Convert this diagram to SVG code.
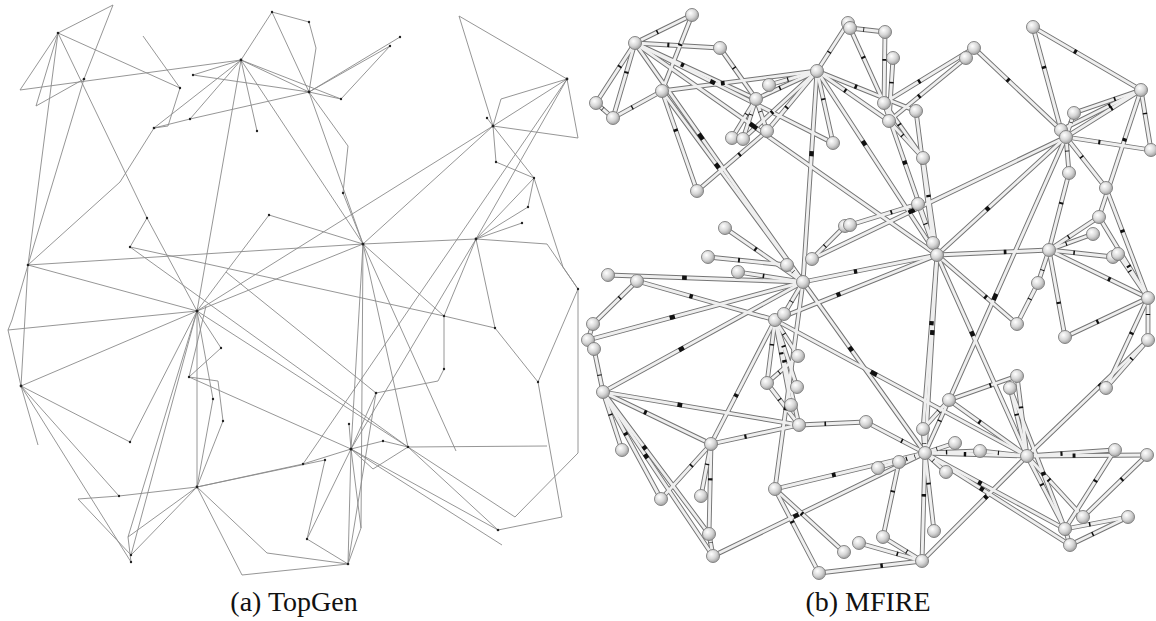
<svg xmlns="http://www.w3.org/2000/svg" xmlns:xlink="http://www.w3.org/1999/xlink" width="1156" height="621" viewBox="0 0 1156 621">
<style>
.tg{fill:none;stroke:#8a8a8a;stroke-width:0.9}
.dot{fill:#222}
.outer{fill:none;stroke:#747474;stroke-width:4.8;stroke-linecap:round}
.inner{fill:none;stroke:#efefef;stroke-width:2.9;stroke-linecap:round}
.marks{fill:none;stroke:#111;stroke-width:4.4;stroke-dasharray:0 38 2.4 100}
.ball{fill:url(#sph);stroke:#7a7a7a;stroke-width:0.9}
.cap{font-family:"Liberation Serif","Times New Roman",serif;font-size:28px;fill:#111;text-anchor:middle}
</style>
<defs>
<radialGradient id="sph" cx="0.38" cy="0.35" r="0.7">
<stop offset="0" stop-color="#ffffff"/>
<stop offset="0.55" stop-color="#d6d6d6"/>
<stop offset="1" stop-color="#9a9a9a"/>
</radialGradient>
<g id="tubes">
<path pathLength="100" d="M635 43L692 15"/>
<path pathLength="100" d="M635 43L720 48"/>
<path pathLength="100" d="M635 43L596 103"/>
<path pathLength="100" d="M635 43L613 118"/>
<path pathLength="100" d="M596 103L613 118"/>
<path pathLength="100" d="M613 118L662 91"/>
<path pathLength="100" d="M692 15L662 91"/>
<path pathLength="100" d="M662 91L817 71"/>
<path pathLength="100" d="M662 91L697 191"/>
<path pathLength="100" d="M662 91L803 282"/>
<path pathLength="100" d="M635 43L803 282"/>
<path pathLength="100" d="M635 43L833 143"/>
<path pathLength="100" d="M635 43L937 255"/>
<path pathLength="100" d="M635 43L756 99"/>
<path pathLength="100" d="M720 48L756 99"/>
<path pathLength="100" d="M756 99L817 71"/>
<path pathLength="100" d="M769 85L817 71"/>
<path pathLength="100" d="M756 99L732 138"/>
<path pathLength="100" d="M756 99L743 139"/>
<path pathLength="100" d="M756 99L767 131"/>
<path pathLength="100" d="M767 131L817 71"/>
<path pathLength="100" d="M767 131L697 191"/>
<path pathLength="100" d="M743 139L817 71"/>
<path pathLength="100" d="M817 71L848 23"/>
<path pathLength="100" d="M850 28L885 32"/>
<path pathLength="100" d="M817 71L833 143"/>
<path pathLength="100" d="M817 71L803 282"/>
<path pathLength="100" d="M817 71L937 255"/>
<path pathLength="100" d="M817 71L889 121"/>
<path pathLength="100" d="M817 71L916 111"/>
<path pathLength="100" d="M850 28L884 103"/>
<path pathLength="100" d="M885 32L884 103"/>
<path pathLength="100" d="M893 58L889 121"/>
<path pathLength="100" d="M884 103L974 48"/>
<path pathLength="100" d="M889 121L966 58"/>
<path pathLength="100" d="M974 48L1061 130"/>
<path pathLength="100" d="M916 111L933 243"/>
<path pathLength="100" d="M889 121L923 158"/>
<path pathLength="100" d="M884 103L923 158"/>
<path pathLength="100" d="M923 158L937 255"/>
<path pathLength="100" d="M884 103L937 255"/>
<path pathLength="100" d="M918 204L850 225"/>
<path pathLength="100" d="M918 204L937 255"/>
<path pathLength="100" d="M937 255L1066 137"/>
<path pathLength="100" d="M812 259L1066 137"/>
<path pathLength="100" d="M1033 27L1141 90"/>
<path pathLength="100" d="M1033 27L1061 130"/>
<path pathLength="100" d="M1141 90L1074 113"/>
<path pathLength="100" d="M1074 113L1066 137"/>
<path pathLength="100" d="M1141 90L1151 150"/>
<path pathLength="100" d="M1066 137L1151 150"/>
<path pathLength="100" d="M1141 90L1066 137"/>
<path pathLength="100" d="M1141 90L1061 130"/>
<path pathLength="100" d="M1141 90L1099 217"/>
<path pathLength="100" d="M1066 137L1069 173"/>
<path pathLength="100" d="M1066 137L1106 188"/>
<path pathLength="100" d="M1069 173L1049 250"/>
<path pathLength="100" d="M1049 250L1099 217"/>
<path pathLength="100" d="M1049 250L1093 234"/>
<path pathLength="100" d="M1049 250L1113 257"/>
<path pathLength="100" d="M1049 250L937 255"/>
<path pathLength="100" d="M1118 254L1148 298"/>
<path pathLength="100" d="M1106 188L1148 298"/>
<path pathLength="100" d="M608 275L803 282"/>
<path pathLength="100" d="M637 281L593 324"/>
<path pathLength="100" d="M637 281L775 320"/>
<path pathLength="100" d="M588 340L803 282"/>
<path pathLength="100" d="M603 392L803 282"/>
<path pathLength="100" d="M603 392L594 349"/>
<path pathLength="100" d="M594 349L588 340"/>
<path pathLength="100" d="M588 340L593 324"/>
<path pathLength="100" d="M603 392L622 450"/>
<path pathLength="100" d="M603 392L711 444"/>
<path pathLength="100" d="M603 392L799 425"/>
<path pathLength="100" d="M603 392L661 499"/>
<path pathLength="100" d="M603 392L709 534"/>
<path pathLength="100" d="M603 392L713 556"/>
<path pathLength="100" d="M711 444L775 320"/>
<path pathLength="100" d="M711 444L799 425"/>
<path pathLength="100" d="M711 444L701 496"/>
<path pathLength="100" d="M711 444L661 499"/>
<path pathLength="100" d="M711 444L709 534"/>
<path pathLength="100" d="M709 534L713 556"/>
<path pathLength="100" d="M713 556L925 453"/>
<path pathLength="100" d="M775 320L798 356"/>
<path pathLength="100" d="M775 320L767 383"/>
<path pathLength="100" d="M775 320L797 387"/>
<path pathLength="100" d="M775 320L791 405"/>
<path pathLength="100" d="M775 320L799 425"/>
<path pathLength="100" d="M767 383L798 356"/>
<path pathLength="100" d="M767 383L799 425"/>
<path pathLength="100" d="M775 489L803 282"/>
<path pathLength="100" d="M775 489L925 453"/>
<path pathLength="100" d="M775 489L844 552"/>
<path pathLength="100" d="M775 489L819 573"/>
<path pathLength="100" d="M803 282L925 453"/>
<path pathLength="100" d="M803 282L937 255"/>
<path pathLength="100" d="M775 320L937 255"/>
<path pathLength="100" d="M775 320L1027 456"/>
<path pathLength="100" d="M738 272L803 282"/>
<path pathLength="100" d="M725 228L803 282"/>
<path pathLength="100" d="M708 257L787 265"/>
<path pathLength="100" d="M787 265L803 282"/>
<path pathLength="100" d="M784 314L803 282"/>
<path pathLength="100" d="M812 259L845 226"/>
<path pathLength="100" d="M1038 283L1017 324"/>
<path pathLength="100" d="M1017 324L937 255"/>
<path pathLength="100" d="M1038 283L1049 250"/>
<path pathLength="100" d="M1065 337L1148 298"/>
<path pathLength="100" d="M1065 337L1049 250"/>
<path pathLength="100" d="M1148 298L1148 340"/>
<path pathLength="100" d="M1148 340L1106 388"/>
<path pathLength="100" d="M1148 298L1106 388"/>
<path pathLength="100" d="M1148 340L1027 456"/>
<path pathLength="100" d="M1148 298L1049 250"/>
<path pathLength="100" d="M1148 298L1099 217"/>
<path pathLength="100" d="M1017 376L949 400"/>
<path pathLength="100" d="M1017 376L1027 456"/>
<path pathLength="100" d="M1010 388L1027 456"/>
<path pathLength="100" d="M949 400L1027 456"/>
<path pathLength="100" d="M949 400L923 429"/>
<path pathLength="100" d="M949 400L925 453"/>
<path pathLength="100" d="M949 400L1066 137"/>
<path pathLength="100" d="M925 453L923 429"/>
<path pathLength="100" d="M925 453L955 443"/>
<path pathLength="100" d="M925 453L980 451"/>
<path pathLength="100" d="M925 453L946 472"/>
<path pathLength="100" d="M925 453L899 462"/>
<path pathLength="100" d="M925 453L878 468"/>
<path pathLength="100" d="M925 453L866 422"/>
<path pathLength="100" d="M925 453L1027 456"/>
<path pathLength="100" d="M925 453L1065 529"/>
<path pathLength="100" d="M925 453L1070 545"/>
<path pathLength="100" d="M925 453L934 531"/>
<path pathLength="100" d="M925 453L922 561"/>
<path pathLength="100" d="M1027 456L1115 450"/>
<path pathLength="100" d="M1027 456L1147 455"/>
<path pathLength="100" d="M1027 456L1065 529"/>
<path pathLength="100" d="M1027 456L1083 517"/>
<path pathLength="100" d="M1027 456L922 561"/>
<path pathLength="100" d="M1115 450L1065 529"/>
<path pathLength="100" d="M1147 455L1083 517"/>
<path pathLength="100" d="M1065 529L1128 517"/>
<path pathLength="100" d="M1070 545L1128 517"/>
<path pathLength="100" d="M1065 529L1070 545"/>
<path pathLength="100" d="M1065 529L1010 388"/>
<path pathLength="100" d="M922 561L883 537"/>
<path pathLength="100" d="M922 561L819 573"/>
<path pathLength="100" d="M922 561L859 543"/>
<path pathLength="100" d="M937 255L925 453"/>
<path pathLength="100" d="M937 255L1027 456"/>
<path pathLength="100" d="M937 255L923 429"/>
<path pathLength="100" d="M899 462L883 537"/>
<path pathLength="100" d="M799 425L866 422"/>
<path pathLength="100" d="M980 451L1027 456"/>
</g>
</defs>
<rect width="1156" height="621" fill="#ffffff"/>

<g id="topgen-connectors" class="tg">
<path d="M58 33L113 5"/>
<path d="M113 5L84 79"/>
<path d="M58 33L20 90"/>
<path d="M58 33L36 106"/>
<path d="M20 90L241 60"/>
<path d="M36 106L84 79"/>
<path d="M84 79L28 265"/>
<path d="M58 33L28 265"/>
<path d="M58 33L180 88"/>
<path d="M58 33L147 218"/>
<path d="M143 36L180 88"/>
<path d="M180 88L168 126L154 128"/>
<path d="M193 75L241 60"/>
<path d="M193 75L309 92"/>
<path d="M241 60L272 12"/>
<path d="M272 12L309 22L316 48L309 92"/>
<path d="M272 12L309 92"/>
<path d="M241 60L190 119"/>
<path d="M241 60L154 128"/>
<path d="M241 60L257 131"/>
<path d="M241 60L197 311"/>
<path d="M241 60L309 92"/>
<path d="M241 60L341 99"/>
<path d="M241 60L363 244"/>
<path d="M154 128L190 119L309 92"/>
<path d="M154 128L120 182L28 265"/>
<path d="M147 218L130 247"/>
<path d="M147 218L197 311"/>
<path d="M130 247L444 316"/>
<path d="M28 265L363 244"/>
<path d="M28 265L197 311"/>
<path d="M28 265L12 320L8 330L21 386"/>
<path d="M8 330L197 311"/>
<path d="M28 265L21 386"/>
<path d="M21 386L38 445"/>
<path d="M21 386L197 311"/>
<path d="M21 386L130 442"/>
<path d="M130 442L197 311"/>
<path d="M21 386L119 496"/>
<path d="M21 386L131 562"/>
<path d="M197 311L131 555"/>
<path d="M197 311L128 537"/>
<path d="M197 311L197 487"/>
<path d="M197 311L221 348L189 377L218 381L223 421L197 487"/>
<path d="M197 311L213 399L197 487"/>
<path d="M206 306L189 377"/>
<path d="M197 311L408 447"/>
<path d="M197 311L363 244"/>
<path d="M197 311L226 272L269 215L363 244"/>
<path d="M78 499L119 496L197 487"/>
<path d="M78 499L131 555"/>
<path d="M197 487L128 537L131 562"/>
<path d="M197 487L131 555"/>
<path d="M197 487L267 553L348 564"/>
<path d="M197 487L242 575L348 564"/>
<path d="M197 487L303 464L351 449"/>
<path d="M197 487L325 460"/>
<path d="M348 564L307 539L325 460"/>
<path d="M307 539L351 449"/>
<path d="M348 564L351 449"/>
<path d="M348 564L361 528L351 449"/>
<path d="M348 564L376 393"/>
<path d="M376 393L438 381L444 369L444 316L495 328L538 382L578 289"/>
<path d="M538 382L562 517L498 530L351 449"/>
<path d="M502 545L351 449"/>
<path d="M498 530L408 447"/>
<path d="M515 517L408 447"/>
<path d="M408 447L547 446"/>
<path d="M578 289L578 453L515 517"/>
<path d="M408 447L383 441L351 449"/>
<path d="M351 449L349 424"/>
<path d="M351 449L373 469L408 447"/>
<path d="M351 449L376 393"/>
<path d="M351 449L476 239"/>
<path d="M363 244L351 449"/>
<path d="M363 244L361 528"/>
<path d="M363 244L408 447"/>
<path d="M363 244L456 451"/>
<path d="M363 244L476 239"/>
<path d="M363 244L493 126"/>
<path d="M197 311L493 126"/>
<path d="M226 272L376 393"/>
<path d="M130 247L408 447"/>
<path d="M309 92L400 37"/>
<path d="M309 92L390 46L341 99"/>
<path d="M309 92L341 99"/>
<path d="M309 92L348 146L343 193L363 244"/>
<path d="M309 92L363 244"/>
<path d="M459 16L567 79"/>
<path d="M459 16L493 126"/>
<path d="M567 79L578 138L493 126"/>
<path d="M567 79L493 126"/>
<path d="M567 79L501 99L493 126"/>
<path d="M487 118L493 126"/>
<path d="M567 79L303 464"/>
<path d="M493 126L496 162L534 178"/>
<path d="M493 126L534 178"/>
<path d="M534 178L563 267L578 289"/>
<path d="M534 178L528 207L476 239"/>
<path d="M522 223L476 239"/>
<path d="M534 178L476 239"/>
<path d="M567 79L476 239"/>
<path d="M476 239L547 244L578 289"/>
<path d="M476 239L495 328"/>
<path d="M476 239L444 316"/>
<path d="M363 244L444 316"/>
<path d="M189 377L351 449"/>
</g>

<g id="topgen-nodes" class="dot">
<g id="a1"><circle cx="58" cy="33" r="1.3"/></g>
<g id="a2"><circle cx="84" cy="79" r="1.3"/></g>
<g id="a3"><circle cx="180" cy="88" r="1.2"/></g>
<g id="a4"><circle cx="193" cy="75" r="1.2"/></g>
<g id="a5"><circle cx="241" cy="60" r="1.4"/></g>
<g id="a6"><circle cx="272" cy="12" r="1.2"/></g>
<g id="a7"><circle cx="190" cy="119" r="1.2"/></g>
<g id="a8"><circle cx="154" cy="128" r="1.3"/></g>
<g id="a9"><circle cx="257" cy="131" r="1.2"/></g>
<g id="a10"><circle cx="28" cy="265" r="1.3"/></g>
<g id="a11"><circle cx="147" cy="218" r="1.2"/></g>
<g id="a12"><circle cx="130" cy="247" r="1.2"/></g>
<g id="a13"><circle cx="269" cy="215" r="1.2"/></g>
<g id="a14"><circle cx="309" cy="22" r="1.2"/></g>
<g id="a15"><circle cx="309" cy="92" r="1.4"/></g>
<g id="a16"><circle cx="400" cy="37" r="1.2"/></g>
<g id="a17"><circle cx="390" cy="46" r="1.2"/></g>
<g id="a18"><circle cx="341" cy="99" r="1.2"/></g>
<g id="a19"><circle cx="343" cy="193" r="1.2"/></g>
<g id="a20"><circle cx="363" cy="244" r="1.5"/></g>
<g id="a21"><circle cx="567" cy="79" r="1.4"/></g>
<g id="a22"><circle cx="493" cy="126" r="1.5"/></g>
<g id="a23"><circle cx="487" cy="118" r="1.2"/></g>
<g id="a24"><circle cx="496" cy="162" r="1.2"/></g>
<g id="a25"><circle cx="534" cy="178" r="1.2"/></g>
<g id="a26"><circle cx="528" cy="207" r="1.2"/></g>
<g id="a27"><circle cx="522" cy="223" r="1.2"/></g>
<g id="a28"><circle cx="476" cy="239" r="1.4"/></g>
<g id="a29"><circle cx="578" cy="289" r="1.2"/></g>
<g id="a30"><circle cx="197" cy="311" r="1.5"/></g>
<g id="a31"><circle cx="21" cy="386" r="1.4"/></g>
<g id="a32"><circle cx="130" cy="442" r="1.2"/></g>
<g id="a33"><circle cx="221" cy="348" r="1.2"/></g>
<g id="a34"><circle cx="189" cy="377" r="1.2"/></g>
<g id="a35"><circle cx="213" cy="399" r="1.2"/></g>
<g id="a36"><circle cx="223" cy="421" r="1.2"/></g>
<g id="a37"><circle cx="197" cy="487" r="1.4"/></g>
<g id="a38"><circle cx="119" cy="496" r="1.2"/></g>
<g id="a39"><circle cx="131" cy="555" r="1.2"/></g>
<g id="a40"><circle cx="131" cy="562" r="1.2"/></g>
<g id="a41"><circle cx="444" cy="316" r="1.2"/></g>
<g id="a42"><circle cx="444" cy="369" r="1.2"/></g>
<g id="a43"><circle cx="376" cy="393" r="1.3"/></g>
<g id="a44"><circle cx="495" cy="328" r="1.2"/></g>
<g id="a45"><circle cx="538" cy="382" r="1.2"/></g>
<g id="a46"><circle cx="498" cy="530" r="1.3"/></g>
<g id="a47"><circle cx="408" cy="447" r="1.3"/></g>
<g id="a48"><circle cx="383" cy="441" r="1.2"/></g>
<g id="a49"><circle cx="351" cy="449" r="1.5"/></g>
<g id="a50"><circle cx="349" cy="424" r="1.2"/></g>
<g id="a51"><circle cx="303" cy="464" r="1.2"/></g>
<g id="a52"><circle cx="307" cy="539" r="1.2"/></g>
<g id="a53"><circle cx="348" cy="564" r="1.3"/></g>
<g id="a54"><circle cx="325" cy="460" r="1.2"/></g>
</g>

<g id="mfire-connectors">
<use href="#tubes" class="outer"/>
<use href="#tubes" class="inner"/>
<use href="#tubes" class="marks"/>
</g>

<g id="mfire-nodes">
<g id="b1"><circle class="ball" cx="692" cy="15" r="6.5"/></g>
<g id="b2"><circle class="ball" cx="635" cy="43" r="6.5"/></g>
<g id="b3"><circle class="ball" cx="720" cy="48" r="6.5"/></g>
<g id="b4"><circle class="ball" cx="596" cy="103" r="6.5"/></g>
<g id="b5"><circle class="ball" cx="613" cy="118" r="6.5"/></g>
<g id="b6"><circle class="ball" cx="662" cy="91" r="6.5"/></g>
<g id="b7"><circle class="ball" cx="697" cy="191" r="6.5"/></g>
<g id="b8"><circle class="ball" cx="756" cy="99" r="6.5"/></g>
<g id="b9"><circle class="ball" cx="769" cy="85" r="6.5"/></g>
<g id="b10"><circle class="ball" cx="817" cy="71" r="6.5"/></g>
<g id="b11"><circle class="ball" cx="848" cy="23" r="6.5"/></g>
<g id="b12"><circle class="ball" cx="850" cy="28" r="6.5"/></g>
<g id="b13"><circle class="ball" cx="732" cy="138" r="6.5"/></g>
<g id="b14"><circle class="ball" cx="743" cy="139" r="6.5"/></g>
<g id="b15"><circle class="ball" cx="767" cy="131" r="6.5"/></g>
<g id="b16"><circle class="ball" cx="833" cy="143" r="6.5"/></g>
<g id="b17"><circle class="ball" cx="725" cy="228" r="6.5"/></g>
<g id="b18"><circle class="ball" cx="708" cy="257" r="6.5"/></g>
<g id="b19"><circle class="ball" cx="787" cy="265" r="6.5"/></g>
<g id="b20"><circle class="ball" cx="812" cy="259" r="6.5"/></g>
<g id="b21"><circle class="ball" cx="845" cy="226" r="6.5"/></g>
<g id="b22"><circle class="ball" cx="850" cy="225" r="6.5"/></g>
<g id="b23"><circle class="ball" cx="885" cy="32" r="6.5"/></g>
<g id="b24"><circle class="ball" cx="893" cy="58" r="6.5"/></g>
<g id="b25"><circle class="ball" cx="974" cy="48" r="6.5"/></g>
<g id="b26"><circle class="ball" cx="966" cy="58" r="6.5"/></g>
<g id="b27"><circle class="ball" cx="884" cy="103" r="6.5"/></g>
<g id="b28"><circle class="ball" cx="889" cy="121" r="6.5"/></g>
<g id="b29"><circle class="ball" cx="916" cy="111" r="6.5"/></g>
<g id="b30"><circle class="ball" cx="923" cy="158" r="6.5"/></g>
<g id="b31"><circle class="ball" cx="1033" cy="27" r="6.5"/></g>
<g id="b32"><circle class="ball" cx="1141" cy="90" r="6.5"/></g>
<g id="b33"><circle class="ball" cx="1074" cy="113" r="6.5"/></g>
<g id="b34"><circle class="ball" cx="1061" cy="130" r="6.5"/></g>
<g id="b35"><circle class="ball" cx="1066" cy="137" r="6.5"/></g>
<g id="b36"><circle class="ball" cx="1151" cy="150" r="6.5"/></g>
<g id="b37"><circle class="ball" cx="1069" cy="173" r="6.5"/></g>
<g id="b38"><circle class="ball" cx="1106" cy="188" r="6.5"/></g>
<g id="b39"><circle class="ball" cx="918" cy="204" r="6.5"/></g>
<g id="b40"><circle class="ball" cx="933" cy="243" r="6.5"/></g>
<g id="b41"><circle class="ball" cx="937" cy="255" r="6.5"/></g>
<g id="b42"><circle class="ball" cx="1099" cy="217" r="6.5"/></g>
<g id="b43"><circle class="ball" cx="1093" cy="234" r="6.5"/></g>
<g id="b44"><circle class="ball" cx="1049" cy="250" r="6.5"/></g>
<g id="b45"><circle class="ball" cx="1113" cy="257" r="6.5"/></g>
<g id="b46"><circle class="ball" cx="1118" cy="254" r="6.5"/></g>
<g id="b47"><circle class="ball" cx="608" cy="275" r="6.5"/></g>
<g id="b48"><circle class="ball" cx="637" cy="281" r="6.5"/></g>
<g id="b49"><circle class="ball" cx="803" cy="282" r="6.5"/></g>
<g id="b50"><circle class="ball" cx="738" cy="272" r="6.5"/></g>
<g id="b51"><circle class="ball" cx="775" cy="320" r="6.5"/></g>
<g id="b52"><circle class="ball" cx="784" cy="314" r="6.5"/></g>
<g id="b53"><circle class="ball" cx="593" cy="324" r="6.5"/></g>
<g id="b54"><circle class="ball" cx="588" cy="340" r="6.5"/></g>
<g id="b55"><circle class="ball" cx="594" cy="349" r="6.5"/></g>
<g id="b56"><circle class="ball" cx="603" cy="392" r="6.5"/></g>
<g id="b57"><circle class="ball" cx="622" cy="450" r="6.5"/></g>
<g id="b58"><circle class="ball" cx="711" cy="444" r="6.5"/></g>
<g id="b59"><circle class="ball" cx="798" cy="356" r="6.5"/></g>
<g id="b60"><circle class="ball" cx="767" cy="383" r="6.5"/></g>
<g id="b61"><circle class="ball" cx="797" cy="387" r="6.5"/></g>
<g id="b62"><circle class="ball" cx="791" cy="405" r="6.5"/></g>
<g id="b63"><circle class="ball" cx="799" cy="425" r="6.5"/></g>
<g id="b64"><circle class="ball" cx="775" cy="489" r="6.5"/></g>
<g id="b65"><circle class="ball" cx="661" cy="499" r="6.5"/></g>
<g id="b66"><circle class="ball" cx="701" cy="496" r="6.5"/></g>
<g id="b67"><circle class="ball" cx="709" cy="534" r="6.5"/></g>
<g id="b68"><circle class="ball" cx="713" cy="556" r="6.5"/></g>
<g id="b69"><circle class="ball" cx="844" cy="552" r="6.5"/></g>
<g id="b70"><circle class="ball" cx="859" cy="543" r="6.5"/></g>
<g id="b71"><circle class="ball" cx="866" cy="422" r="6.5"/></g>
<g id="b72"><circle class="ball" cx="1038" cy="283" r="6.5"/></g>
<g id="b73"><circle class="ball" cx="1017" cy="324" r="6.5"/></g>
<g id="b74"><circle class="ball" cx="1065" cy="337" r="6.5"/></g>
<g id="b75"><circle class="ball" cx="1148" cy="298" r="6.5"/></g>
<g id="b76"><circle class="ball" cx="1148" cy="340" r="6.5"/></g>
<g id="b77"><circle class="ball" cx="1106" cy="388" r="6.5"/></g>
<g id="b78"><circle class="ball" cx="1017" cy="376" r="6.5"/></g>
<g id="b79"><circle class="ball" cx="1010" cy="388" r="6.5"/></g>
<g id="b80"><circle class="ball" cx="949" cy="400" r="6.5"/></g>
<g id="b81"><circle class="ball" cx="923" cy="429" r="6.5"/></g>
<g id="b82"><circle class="ball" cx="925" cy="453" r="6.5"/></g>
<g id="b83"><circle class="ball" cx="955" cy="443" r="6.5"/></g>
<g id="b84"><circle class="ball" cx="980" cy="451" r="6.5"/></g>
<g id="b85"><circle class="ball" cx="946" cy="472" r="6.5"/></g>
<g id="b86"><circle class="ball" cx="899" cy="462" r="6.5"/></g>
<g id="b87"><circle class="ball" cx="878" cy="468" r="6.5"/></g>
<g id="b88"><circle class="ball" cx="1027" cy="456" r="6.5"/></g>
<g id="b89"><circle class="ball" cx="1115" cy="450" r="6.5"/></g>
<g id="b90"><circle class="ball" cx="1147" cy="455" r="6.5"/></g>
<g id="b91"><circle class="ball" cx="1083" cy="517" r="6.5"/></g>
<g id="b92"><circle class="ball" cx="1128" cy="517" r="6.5"/></g>
<g id="b93"><circle class="ball" cx="1065" cy="529" r="6.5"/></g>
<g id="b94"><circle class="ball" cx="1070" cy="545" r="6.5"/></g>
<g id="b95"><circle class="ball" cx="934" cy="531" r="6.5"/></g>
<g id="b96"><circle class="ball" cx="883" cy="537" r="6.5"/></g>
<g id="b97"><circle class="ball" cx="922" cy="561" r="6.5"/></g>
<g id="b98"><circle class="ball" cx="819" cy="573" r="6.5"/></g>
</g>

<g id="captions">
<text class="cap" x="294" y="611">(a) TopGen</text>
<text class="cap" x="868" y="611">(b) MFIRE</text>
</g>
</svg>
